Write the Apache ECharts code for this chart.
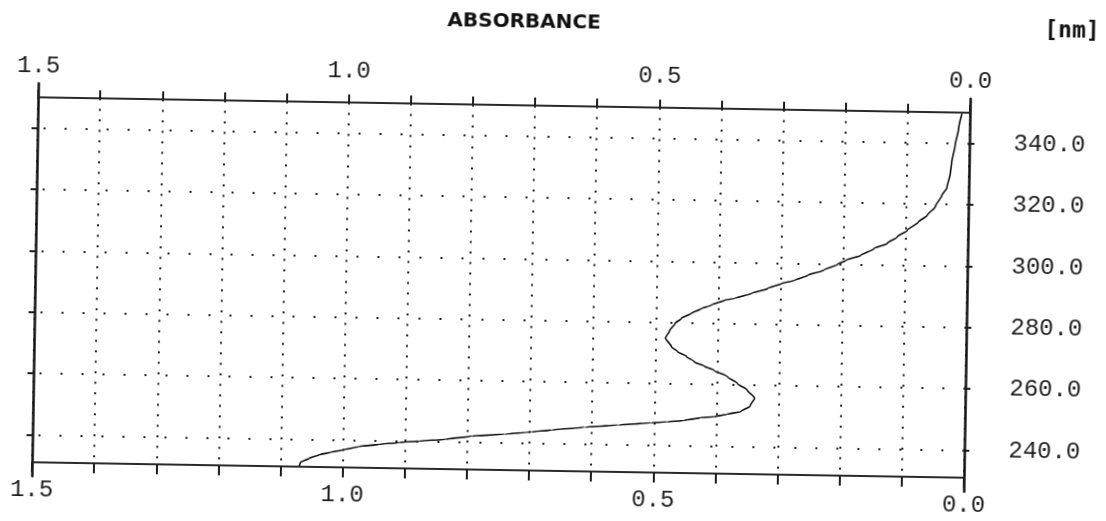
<!DOCTYPE html>
<html>
<head>
<meta charset="utf-8">
<script src="https://cdn.jsdelivr.net/npm/echarts@6/dist/echarts.min.js"></script>
<style>
html,body{margin:0;padding:0;background:#fff;overflow:hidden;}
#wrap{width:1106px;height:521px;transform:rotate(0.95deg);transform-origin:500.75px 287.75px;}
#chart{width:1106px;height:521px;}
</style>
</head>
<body>
<div id="wrap"><div id="chart"></div></div>
<script>
// Wavelength [nm] (vertical axis) and absorbance (horizontal axis)
const wavelength = [349.6, 344.5, 339.3, 333.7, 330.1, 325.5, 322.9, 319.3, 316.3, 314.1, 311.3, 309.1, 306.9, 305.2, 302.9, 301.2, 299.9, 297.9, 296.1, 294.4, 293.3, 291.6, 289.9, 288.2, 287.6, 285.9, 284.7, 283.1, 281.4, 279.7, 277.5, 274.9, 272.1, 270.5, 269.1, 267.3, 266.0, 264.7, 262.6, 260.5, 258.4, 255.8, 253.2, 251.3, 250.4, 249.5, 249.2, 248.1, 247.6, 247.2, 246.3, 245.4, 244.3, 243.6, 242.7, 241.9, 240.7, 240.0, 239.4, 238.7, 237.9, 236.7, 235.9, 235.0, 233.8, 232.4, 231.3];
const absorbance = [0.013, 0.018, 0.023, 0.028, 0.030, 0.035, 0.043, 0.053, 0.066, 0.080, 0.098, 0.114, 0.130, 0.151, 0.172, 0.196, 0.209, 0.231, 0.257, 0.278, 0.299, 0.321, 0.347, 0.374, 0.390, 0.411, 0.427, 0.443, 0.459, 0.469, 0.477, 0.484, 0.474, 0.464, 0.450, 0.437, 0.421, 0.405, 0.383, 0.367, 0.351, 0.339, 0.346, 0.361, 0.383, 0.404, 0.425, 0.452, 0.479, 0.505, 0.558, 0.612, 0.665, 0.697, 0.740, 0.793, 0.835, 0.878, 0.910, 0.942, 0.974, 1.000, 1.019, 1.038, 1.054, 1.068, 1.070];
const wavelengthTicks = [240, 260, 280, 300, 320, 340];
const absorbanceLabels = [0.0, 0.5, 1.0, 1.5];

const ink = '#1c1c1c';
const labelInk = '#1e1e1e';
const numFont = 'Liberation Mono';
const curve = wavelength.map((w, i) => [absorbance[i], w]);

function absLabel(v) {
  return absorbanceLabels.some(a => Math.abs(a - v) < 1e-6) ? v.toFixed(1) : '';
}

const xCommon = {
  type: 'value', gridIndex: 0, inverse: true, min: 0, max: 1.5, interval: 0.1,
  axisLine: { show: true, onZero: false, lineStyle: { color: '#2a2a2a', width: 2 } },
  axisLabel: { formatter: absLabel, color: labelInk, fontFamily: numFont, fontSize: 24, showMinLabel: true, showMaxLabel: true },
};

const chart = echarts.init(document.getElementById('chart'));
chart.setOption({
  animation: false,
  backgroundColor: '#fff',
  title: [
    { text: 'ABSORBANCE', left: 443, top: 12, padding: 0,
      textStyle: { fontFamily: 'DejaVu Sans', fontWeight: 'bold', fontSize: 20, color: '#111' } },
    { text: '[nm]', left: 1040, top: 11, padding: 0,
      textStyle: { fontFamily: 'DejaVu Sans Mono', fontWeight: 'bold', fontSize: 23, color: '#111' } }
  ],
  grid: [
    { left: 35, right: 139, top: 105, bottom: 51 },
    { left: 35, right: 139, top: 91, bottom: 37 }
  ],
  xAxis: [
    Object.assign({}, xCommon, {
      position: 'bottom',
      axisTick: { show: true, inside: false, length: 10, lineStyle: { color: ink, width: 2 } },
      axisLabel: Object.assign({}, xCommon.axisLabel, { margin: 16 }),
      splitLine: { show: true, lineStyle: { color: '#222', width: 2, type: [2, 8.5] } }
    }),
    Object.assign({}, xCommon, {
      position: 'top',
      axisTick: { show: true, inside: false, length: 8, lineStyle: { color: ink, width: 2 } },
      axisLabel: Object.assign({}, xCommon.axisLabel, { margin: 19 }),
      splitLine: { show: false }
    }),
    { type: 'value', gridIndex: 1, min: 0, max: 1, show: false }
  ],
  yAxis: [
    { type: 'value', gridIndex: 0, position: 'right', min: 231, max: 350,
      axisLine: { show: false, onZero: false },
      axisTick: { show: true, inside: false, length: 5, customValues: wavelengthTicks, lineStyle: { color: ink, width: 2 } },
      axisLabel: { show: true, customValues: wavelengthTicks, formatter: v => v.toFixed(1), margin: 44,
        color: labelInk, fontFamily: numFont, fontSize: 24 },
      splitLine: { show: false } },
    { type: 'value', gridIndex: 0, position: 'left', min: 231, max: 350,
      axisLine: { show: false, onZero: false },
      axisTick: { show: true, inside: false, length: 6, customValues: wavelengthTicks, lineStyle: { color: ink, width: 2 } },
      axisLabel: { show: false },
      splitLine: { show: false } },
    { type: 'value', gridIndex: 1, position: 'left', min: 0, max: 1,
      axisLine: { show: true, onZero: false, lineStyle: { color: '#111', width: 2.5 } },
      axisTick: { show: false }, axisLabel: { show: false }, splitLine: { show: false } },
    { type: 'value', gridIndex: 1, position: 'right', min: 0, max: 1,
      axisLine: { show: true, onZero: false, lineStyle: { color: '#111', width: 2.5 } },
      axisTick: { show: false }, axisLabel: { show: false }, splitLine: { show: false } }
  ],
  series: [
    {
      type: 'line', xAxisIndex: 0, yAxisIndex: 0, data: curve,
      showSymbol: false, smooth: 0.2, smoothMonotone: 'y',
      lineStyle: { color: '#111', width: 1.6 },
      markLine: {
        silent: true, symbol: 'none', label: { show: false },
        lineStyle: { color: '#222', width: 2, type: [2, 19] },
        data: wavelengthTicks.map(v => ({ yAxis: v }))
      }
    }
  ]
});
</script>
</body>
</html>
